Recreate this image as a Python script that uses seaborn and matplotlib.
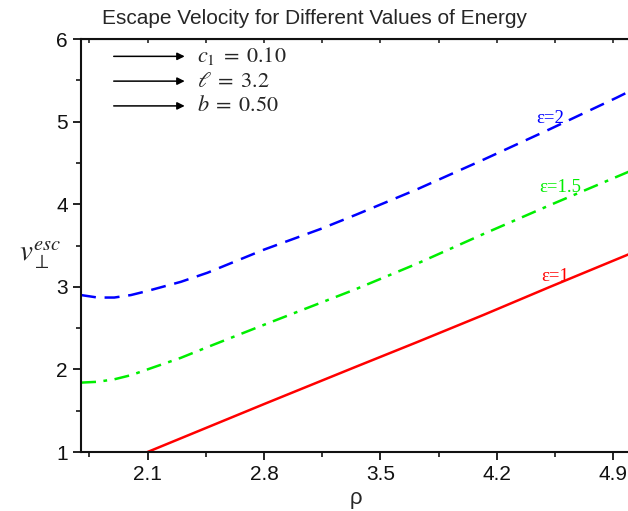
import pandas as pd
import matplotlib
matplotlib.use("Agg")
import matplotlib.pyplot as plt
import seaborn as sns
from matplotlib.ticker import MultipleLocator

# valores
rho_e2 = [1.70, 1.80, 1.90, 2.00, 2.10, 2.30, 2.46, 2.63, 2.80, 3.14, 3.35, 3.72, 4.12, 4.52, 4.92, 5.00]
v_e2 = [2.90, 2.87, 2.87, 2.90, 2.95, 3.06, 3.17, 3.31, 3.45, 3.70, 3.87, 4.18, 4.54, 4.91, 5.29, 5.37]

rho_e15 = [1.70, 1.80, 1.90, 2.00, 2.10, 2.30, 2.46, 2.80, 3.35, 3.72, 4.12, 4.52, 5.00]
v_e15 = [1.84, 1.85, 1.88, 1.93, 2.00, 2.14, 2.27, 2.54, 2.97, 3.28, 3.64, 3.99, 4.40]

rho_e1 = [2.10, 2.45, 2.80, 3.35, 3.72, 4.12, 4.52, 5.00]
v_e1 = [1.00, 1.29, 1.58, 2.03, 2.33, 2.66, 3.00, 3.40]

curve_labels = ["ε=2", "ε=1.5", "ε=1"]
params = [r"$c_1\;=\;0.10$", r"$\ell\;=\;3.2$", r"$b\;=\;0.50$"]

sns.set_style("ticks")
plt.rcParams["font.family"] = ["Liberation Sans", "DejaVu Sans"]
plt.rcParams["mathtext.fontset"] = "stix"

fig = plt.figure(figsize=(6.28, 5.11), dpi=100)
ax = fig.add_axes([81 / 628, 59 / 511, 549 / 628, 413 / 511])

df2 = pd.DataFrame({"rho": rho_e2, "v": v_e2})
df15 = pd.DataFrame({"rho": rho_e15, "v": v_e15})
df1 = pd.DataFrame({"rho": rho_e1, "v": v_e1})

sns.lineplot(data=df2, x="rho", y="v", ax=ax, color="#0000ff", lw=1.8, sort=False)
ax.lines[-1].set_dashes([6, 3.5])
sns.lineplot(data=df15, x="rho", y="v", ax=ax, color="#00ee00", lw=1.8, sort=False)
ax.lines[-1].set_dashes([6, 3, 1.5, 3])
sns.lineplot(data=df1, x="rho", y="v", ax=ax, color="#ff0000", lw=1.8, sort=False)

ax.set_xlim(1.7, 5.0)
ax.set_ylim(1, 6)
ax.xaxis.set_minor_locator(MultipleLocator(0.35))
ax.yaxis.set_major_locator(MultipleLocator(1))
ax.yaxis.set_minor_locator(MultipleLocator(0.5))
ax.set_xticks([2.1, 2.8, 3.5, 4.2, 4.9])
ax.set_xticklabels(["2.1", "2.8", "3.5", "4.2", "4.9"])
ax.tick_params(which="major", direction="out", length=6, width=1.3, labelsize=15, colors="#111111")
ax.tick_params(which="minor", direction="out", length=3.5, width=1.3)
for s in ["left", "bottom", "top"]:
    ax.spines[s].set_linewidth(1.5)
    ax.spines[s].set_color("#111111")
ax.spines["right"].set_visible(False)

top = ax.secondary_xaxis("top")
top.set_xticks([2.1, 2.8, 3.5, 4.2, 4.9])
top.xaxis.set_minor_locator(MultipleLocator(0.35))
top.tick_params(which="both", direction="in", length=3, width=1.2, labeltop=False)

ax.set_xlabel("ρ", fontsize=16, labelpad=3)
ax.set_ylabel(r"$v_{\perp}^{esc}$", fontsize=21, rotation=0, va="center")
ax.yaxis.set_label_coords(-0.075, 0.475)

fig.text(0.5, 0.963, "Escape Velocity for Different Values of Energy", ha="center", va="center",
         fontsize=15)

# etiquetas de las curvas
ax.text(4.52, 5.04, curve_labels[0], color="#0000ff", fontsize=13.5, family="Liberation Serif", ha="center", va="center")
ax.text(4.58, 4.20, curve_labels[1], color="#00ee00", fontsize=13.5, family="Liberation Serif", ha="center", va="center")
ax.text(4.55, 3.13, curve_labels[2], color="#ff0000", fontsize=13.5, family="Liberation Serif", ha="center", va="center")

# flechas con parametros
for i, p in enumerate(params):
    yy = 5.79 - i * 0.30
    ax.annotate("", xy=(2.34, yy), xytext=(1.88, yy),
                arrowprops=dict(arrowstyle="-|>", color="black", lw=1.1, mutation_scale=11))
    ax.text(2.40, yy, p, fontsize=16, va="center", ha="left")

fig.savefig("out.png", dpi=100)
